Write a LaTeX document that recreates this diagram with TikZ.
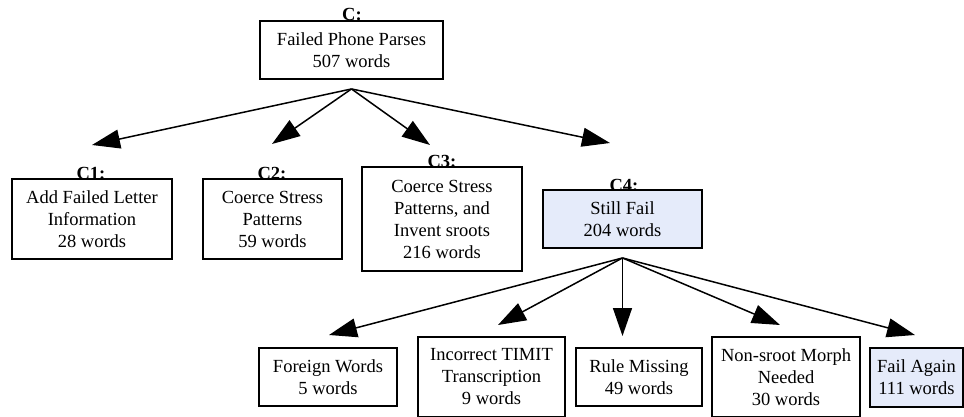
\documentclass[tikz,border=0pt]{standalone}
\usepackage{fontspec}
\setmainfont{Liberation Serif}
\usetikzlibrary{arrows.meta,calc}
\definecolor{stillfail}{RGB}{229,235,250}
\tikzset{
  box/.style={draw=black, line width=1.9pt, fill=white, inner sep=0pt,
    align=center, font=\fontsize{18.5}{22}\selectfont},
  failbox/.style={box, fill=stillfail},
  tag/.style={anchor=base, inner sep=0pt, font=\fontsize{18.5}{22}\selectfont\bfseries},
  link/.style={line width=1.5pt, -{Triangle[length=28pt,width=19pt]}}
}
\begin{document}
\begin{tikzpicture}[x=1pt,y=-1pt]
\useasboundingbox (0,0) rectangle (964,417);
\clip (0,0) rectangle (964,417);

% category tags (partly covered by the boxes drawn afterwards)
\node[tag] (tc)  at (352,20.5)  {C:};
\node[tag] (tc1) at (91,179.5)  {C1:};
\node[tag] (tc2) at (272,179.5) {C2:};
\node[tag] (tc3) at (442,167.5) {C3:};
\node[tag] (tc4) at (624,191)   {C4:};

% top level
\node[box, minimum width=183pt, minimum height=58pt] (c) at (351.5,50)
  {Failed Phone Parses\\507 words};

% first split
\node[box, minimum width=160pt, minimum height=80pt] (c1) at (92,219)
  {Add Failed Letter\\Information\\28 words};
\node[box, minimum width=139pt, minimum height=80pt] (c2) at (272.5,219)
  {Coerce Stress\\Patterns\\59 words};
\node[box, minimum width=160pt, minimum height=104pt] (c3) at (442,219)
  {Coerce Stress\\Patterns, and\\Invent sroots\\216 words};
\node[failbox, minimum width=159pt, minimum height=58pt] (c4) at (622.5,219)
  {Still Fail\\204 words};

% second split
\node[box, minimum width=138pt, minimum height=58pt] (fw) at (328,377)
  {Foreign Words\\5 words};
\node[box, minimum width=147pt, minimum height=80pt] (tt) at (491.5,377)
  {Incorrect TIMIT\\Transcription\\9 words};
\node[box, minimum width=126pt, minimum height=58pt] (rm) at (639,377)
  {Rule Missing\\49 words};
\node[box, minimum width=148pt, minimum height=80pt] (nm) at (786,377)
  {Non-sroot Morph\\Needed\\30 words};
\node[failbox, minimum width=93pt, minimum height=59pt] (fa) at (916.5,377.5)
  {Fail Again\\111 words};

% fan-out points and arrow ends
\coordinate (cout)  at ($(c.south)+(0,9)$);
\coordinate (c4out) at ($(c4.south)+(0,9)$);
\coordinate (in1) at (92,145);
\coordinate (in2) at (272,144);
\coordinate (in3) at (430,145);
\coordinate (in4) at (610,143);
\coordinate (infw) at (329,335);
\coordinate (intt) at (498,325);
\coordinate (inrm) at (622.5,336);
\coordinate (innm) at (780,325);
\coordinate (infa) at (915,335);

\foreach \t in {in1,in2,in3,in4}
  \draw[link] (cout) -- (\t);
\foreach \t in {infw,intt,inrm,innm,infa}
  \draw[link] (c4out) -- (\t);
\end{tikzpicture}
\end{document}
